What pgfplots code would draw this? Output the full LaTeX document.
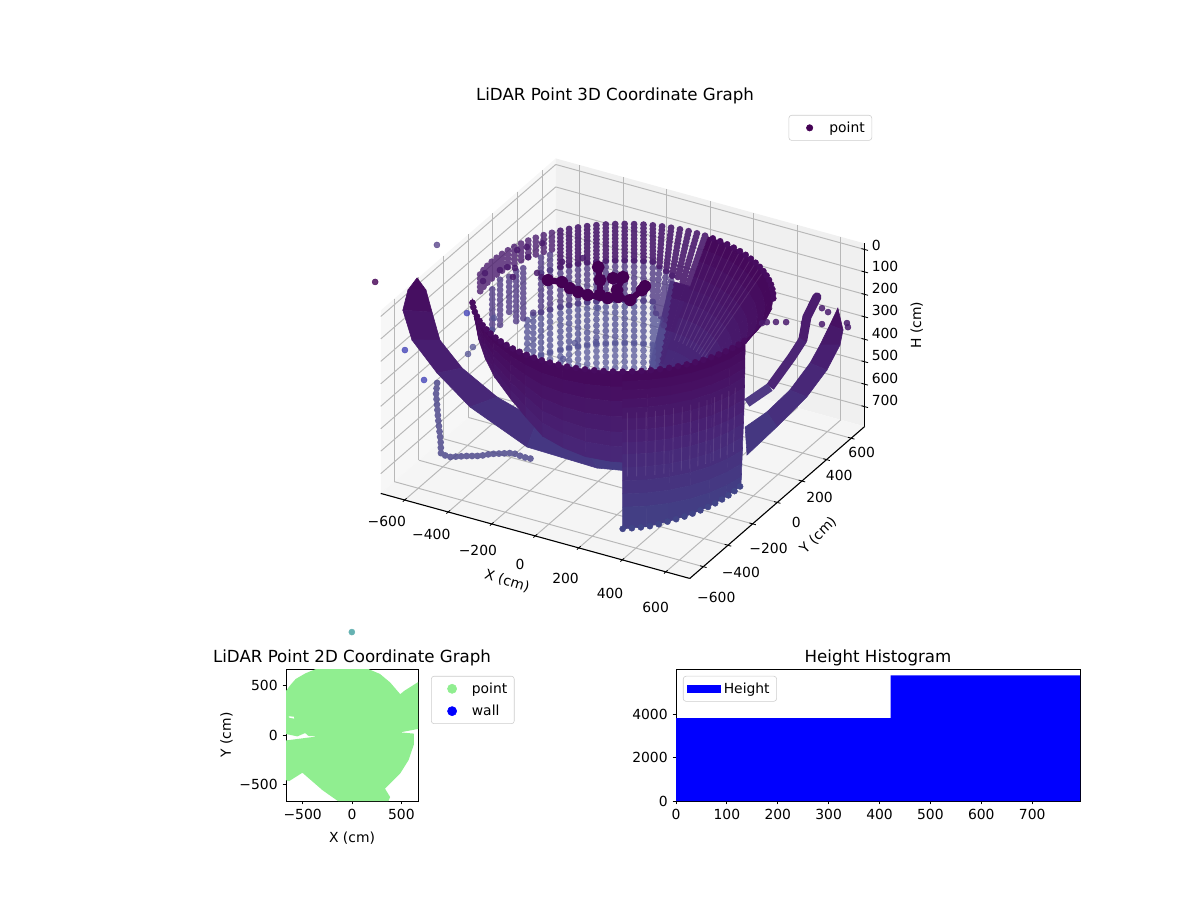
\documentclass[border=0pt]{standalone}
\usepackage{fontspec}
\setmainfont{DejaVu Sans}
\usepackage{pgfplots}
\pgfplotsset{compat=1.18}
\definecolor{cA}{HTML}{440154}
\definecolor{cRim}{HTML}{470C60}
\definecolor{cB1}{HTML}{4B1C6E}
\definecolor{cB2}{HTML}{503A84}
\definecolor{cB3}{HTML}{565496}
\definecolor{cB4}{HTML}{5F5F9E}
\definecolor{cBot}{HTML}{414487}
\definecolor{cChain}{HTML}{4F4A8C}
\definecolor{cGrid}{HTML}{B8B8B8}
\definecolor{cLG}{HTML}{90EE90}
\newcommand\sh[3]{\raisebox{#2}[\height][\depth]{\kern#1\relax#3\kern-#1\relax}}
\pgfplotsset{
  /pgfplots/table/cyl/.style={x expr=\thisrow{r}*cos(\thisrow{t}),y expr=\thisrow{r}*sin(\thisrow{t}),z=H},
  dots/.style={no markers,empty line=jump,unbounded coords=jump,forget plot,line cap=round,line width=4.9pt,dash pattern=on 0pt off #1},
  stripes/.style={no markers,empty line=jump,unbounded coords=jump,forget plot,white,line width=0.6pt,opacity=0.1},
  tks/.style={no markers,empty line=jump,unbounded coords=jump,forget plot,black,line width=0.6pt},
  sheet/.style={surf,shader=flat,forget plot,z buffer=none},
  pts/.style={only marks,mark=*,mark size=2.2pt,forget plot,mark options={draw=#1,fill=#1,line width=0.3pt}},
  leg/.style={font=\fontsize{10}{12}\selectfont,draw=black!20,rounded corners=2pt,cells={anchor=west},inner xsep=3pt,inner ysep=2.5pt},
  markleg/.style={legend image code/.code={\path[draw=none,fill=none] (0cm,0cm) -- (0.85cm,0cm);\draw[##1,sharp corners] plot coordinates {(0.42cm,0cm)};}},
}
\begin{document}
\begin{tikzpicture}
\path (0,0) rectangle (864pt,648pt);
\begin{axis}[
  at={(448.38pt,444.24pt)},anchor=origin,
  set layers=standard,clip=false,
  x={(0.15668pt,-0.0431pt)},y={(0.08873pt,0.07707pt)},z={(0pt,0.16167pt)},
  z dir=reverse,
  xmin=-710,xmax=710,ymin=-710,ymax=710,zmin=-27,zmax=788,
  xtick={-600,-400,-200,0,200,400,600},ytick={-600,-400,-200,0,200,400,600},ztick={0,100,200,300,400,500,600,700},
  xticklabels={\sh{-6.5pt}{-3.6pt}{−600},\sh{-5.8pt}{-4.3pt}{−400},\sh{-3.6pt}{-7.2pt}{−200},\sh{-5.8pt}{-10.8pt}{0},\sh{-3.6pt}{-10.8pt}{200},\sh{-2.9pt}{-13pt}{400},\sh{-1.4pt}{-14.4pt}{600}},
  yticklabels={\sh{-2.8pt}{-7.9pt}{−600},\sh{-2.9pt}{-5.8pt}{−400},\sh{-0.7pt}{-3.6pt}{−200},\sh{5.8pt}{-5.8pt}{0},\sh{2.2pt}{0pt}{200},\sh{-1.4pt}{0.7pt}{400},\sh{-2.9pt}{1.4pt}{600}},
  zticklabels={0,100,200,300,400,500,600,700},
  zticklabel pos=right,xtick pos=lower,ytick pos=lower,ztick pos=right,
  grid=major,grid style={cGrid,line width=0.7pt},
  axis line style={draw=none},major tick style={draw=none},major tick length=4pt,tick align=center,
  colormap={lid}{rgb255=(68,1,84); rgb255=(71,19,101); rgb255=(72,36,117); rgb255=(70,52,128); rgb255=(65,68,135)},
  point meta min=0,point meta max=800,
  xlabel={X (cm)},ylabel={Y (cm)},zlabel={H (cm)},
  xlabel style={at={(axis cs:84,-1087,788)},anchor=center,rotate=-17},
  ylabel style={at={(axis cs:985,-153,788)},anchor=center,rotate=45},
  zlabel style={at={(axis cs:894,808,334)},anchor=center,rotate=0},
  title={LiDAR Point 3D Coordinate Graph},
  title style={at={(axis cs:0,0,-27)},anchor=center,xshift=-5.58pt,yshift=124pt,font=\fontsize{12}{14}\selectfont},
  legend style={leg,at={(axis cs:0,0,-27)},anchor=north east,xshift=179.5pt,yshift=116.6pt},
]
% panes
\addplot3[on layer=axis background,fill=black!3,draw=none,forget plot] coordinates {(-710,-710,-27)(-710,710,-27)(-710,710,788)(-710,-710,788)} -- cycle;
\addplot3[on layer=axis background,fill=black!6,draw=none,forget plot] coordinates {(-710,710,-27)(710,710,-27)(710,710,788)(-710,710,788)} -- cycle;
\addplot3[on layer=axis background,fill=black!4,draw=none,forget plot] coordinates {(-710,-710,788)(710,-710,788)(710,710,788)(-710,710,788)} -- cycle;
% axis lines
\addplot3[black,line width=0.8pt,no markers,forget plot] coordinates {(-710,-710,788)(710,-710,788)};
\addplot3[black,line width=0.8pt,no markers,forget plot] coordinates {(710,-710,788)(710,710,788)};
\addplot3[black,line width=0.8pt,no markers,forget plot] coordinates {(710,710,788)(710,710,-27)};
% tick marks
\addplot3[tks] table {
-600 -725 788
-600 -695 788

-400 -725 788
-400 -695 788

-200 -725 788
-200 -695 788

0 -725 788
0 -695 788

200 -725 788
200 -695 788

400 -725 788
400 -695 788

600 -725 788
600 -695 788

695 -600 788
725 -600 788

695 -400 788
725 -400 788

695 -200 788
725 -200 788

695 0 788
725 0 788

695 200 788
725 200 788

695 400 788
725 400 788

695 600 788
725 600 788

695 710 0
725 710 0

695 710 100
725 710 100

695 710 200
725 710 200

695 710 300
725 710 300

695 710 400
725 710 400

695 710 500
725 710 500

695 710 600
725 710 600

695 710 700
725 710 700
};
\addlegendimage{markleg,only marks,mark=*,mark size=2.3pt,mark options={draw=cA,fill=cA}}
\addlegendentry{point}
% base of the bowl behind the columns
\addplot3[sheet,point meta=\thisrow{H}] table[cyl] {
t r H
96 478 231
96 438 283
96 361 385
96 282 490
96 205 592

88 478 231
88 438 283
88 361 385
88 282 490
88 205 592

80 478 231
80 438 283
80 361 385
80 282 490
80 205 592
};
% back wall columns, lowest part
\addplot3[dots=4.3pt,cB4,opacity=0.8] table[cyl] {
t r H
108 602 600
108 602 790

111.6 602 600
111.6 602 790

115.2 602 600
115.2 602 790

118.8 602 600
118.8 602 790

122.4 602 600
122.4 602 790

126 602 600
126 602 790

129.6 602 600
129.6 602 790

133.2 602 600
133.2 602 790

136.8 602 600
136.8 602 790

140.4 602 600
140.4 602 790

144 602 600
144 602 790

148.4 602 600
148.4 602 773

152.4 602 600
152.4 602 773

156 602 600
156 602 747

158.9 602 600
158.9 602 739
};
\addplot3[dots=4.3pt,cB3,opacity=0.8] table[cyl] {
t r H
97.2 430 407
97.2 330 592

100.8 470 407
100.8 390 592

104.4 510 407
104.4 450 592

108 602 407
108 602 600

111.6 602 407
111.6 602 600

115.2 602 407
115.2 602 600

118.8 602 407
118.8 602 600

122.4 602 407
122.4 602 600

126 602 407
126 602 600

129.6 602 407
129.6 602 600

133.2 602 407
133.2 602 600

136.8 602 407
136.8 602 600

140.4 602 407
140.4 602 600

144 602 407
144 602 600

148.4 602 407
148.4 602 600

152.4 602 407
152.4 602 600

156 602 407
156 602 600

158.9 602 418
158.9 602 600
};
\addplot3[dots=4pt,cB2,opacity=0.8] table[cyl] {
t r H
97.2 520 231
97.2 430 407

100.8 540 231
100.8 470 407

104.4 560 231
104.4 510 407

108 602 231
108 602 407

111.6 602 231
111.6 602 407

115.2 602 231
115.2 602 407

118.8 602 231
118.8 602 407

122.4 602 231
122.4 602 407

126 602 231
126 602 407

129.6 602 231
129.6 602 407

133.2 602 231
133.2 602 407

136.8 602 231
136.8 602 407

140.4 602 231
140.4 602 407

144 602 231
144 602 407

148.4 602 231
148.4 602 407

152.4 602 231
152.4 602 407

156 602 396
156 602 407
};
\addplot3[dots=2.6pt,cB1,opacity=0.9] table[cyl] {
t r H
86.4 602 66
86.4 478 231

90 602 66
90 485 231

93.6 602 66
93.6 500 231

97.2 602 66
97.2 520 231

100.8 602 66
100.8 540 231

104.4 602 66
104.4 560 231

108 602 66
108 602 231

111.6 602 66
111.6 602 231

115.2 602 66
115.2 602 231

118.8 602 66
118.8 602 231

122.4 602 66
122.4 602 231

126 602 66
126 602 231

129.6 602 66
129.6 602 231

133.2 602 66
133.2 602 231

136.8 602 66
136.8 602 231

140.4 602 66
140.4 602 231

144 602 66
144 602 231
};
% rim columns at the back left
\addplot3[dots=3pt,cB1,opacity=0.8] table[cyl] {
t r H
147.6 602 66
147.6 602 149

151.2 602 66
151.2 602 149

154.8 602 66
154.8 602 149

158.4 602 66
158.4 602 149

162 602 66
162 602 149

165.6 602 66
165.6 602 149

169.2 602 66
169.2 602 149

172.8 602 66
172.8 602 149

176.4 602 66
176.4 602 149

180 602 66
180 602 149

183.6 602 66
183.6 602 149

187.2 602 66
187.2 602 149

190.8 602 66
190.8 602 149
};
% partial columns at the back left
\addplot3[dots=3.6pt,cB2,opacity=0.8] table[cyl] {
t r H
148.4 602 162
148.4 602 231

152.4 602 162
152.4 602 231

160.9 602 180
160.9 602 411

164.6 602 178
164.6 602 410

168.5 602 187
168.5 602 365

174.1 602 175
174.1 602 376

179.6 602 191
179.6 602 382
};
% scattered points
\addplot3[pts=cA,opacity=0.8] coordinates {(-900,-420,35)};
\addplot3[pts=cB2,opacity=0.75] coordinates {(-833,-37,35)};
\addplot3[pts=cB3,opacity=0.75] coordinates {(-564,-49,283)(-523,-138,283)(-521,-296,283)(-510,-355,283)(-181,-69,283)(-112,-20,283)(-158,-204,283)(-241,225,283)};
\addplot3[pts={blue!45!gray},opacity=0.8] coordinates {(-864,261,489)(-932,-122,489)(-745,-297,489)};
\addplot3[pts=cB1,opacity=0.85] coordinates {(-616,231,128)(-595,272,128)(-557,329,128)(-550,203,128)(-455,108,128)(-422,88,128)(-583,91,128)(-596,56,128)(-552,100,128)(-523,32,128)(-636,5,128)(-611,-55,128)(-412,235,128)(-355,303,128)};
\addplot3[pts=cB1,opacity=0.85] coordinates {(485,274,180)(498,290,180)(529,309,180)(565,328,180)(631,356,180)(698,384,180)(671,481,180)(634,497,180)(781,440,180)(801,413,180)};
\addplot3[pts={teal!60!white}] coordinates {(-861,-678,1461)};
% right side of the bowl
\addplot3[sheet,point meta=\thisrow{H}] table[cyl] {
t r H
85 602 66
85 569 110
85 539 150
85 501 200
85 471 240
85 438 283
85 399 335
85 361 385
85 320 440
85 282 490
85 244 540
85 205 592

78 602 66
78 569 110
78 539 150
78 501 200
78 471 240
78 438 283
78 399 335
78 361 385
78 320 440
78 282 490
78 244 540
78 205 592

70 602 66
70 569 110
70 539 150
70 501 200
70 471 240
70 438 283
70 399 335
70 361 385
70 320 440
70 282 490
70 244 540
70 205 592

60 602 66
60 569 110
60 539 150
60 501 200
60 471 240
60 438 283
60 399 335
60 361 385
60 320 440
60 282 490
60 244 540
60 205 592

50 602 66
50 569 110
50 539 150
50 501 200
50 471 240
50 438 283
50 399 335
50 361 385
50 320 440
50 282 490
50 244 540
50 205 592

40 602 66
40 569 110
40 539 150
40 501 200
40 471 240
40 438 283
40 399 335
40 361 385
40 320 440
40 282 490
40 244 540
40 205 592

30 602 66
30 569 110
30 539 150
30 501 200
30 471 240
30 438 283
30 399 335
30 361 385
30 320 440
30 282 490
30 244 540
30 205 592

20 602 66
20 569 110
20 539 150
20 501 200
20 471 240
20 438 283
20 399 335
20 361 385
20 320 440
20 282 490
20 244 540
20 205 592

10 602 66
10 569 110
10 539 150
10 501 200
10 471 240
10 438 283
10 399 335
10 361 385
10 320 440
10 282 490
10 244 540
10 205 592

0 602 66
0 569 110
0 539 150
0 501 200
0 471 240
0 438 283
0 399 335
0 361 385
0 320 440
0 282 490
0 244 540
0 205 592

-10 602 66
-10 569 110
-10 539 150
-10 501 200
-10 471 240
-10 438 283
-10 399 335
-10 361 385
-10 320 440
-10 282 490
-10 244 540
-10 205 592
};
\addplot3[stripes] table[cyl] {
t r H
82.8 602 66
82.8 345 407

79.2 602 66
79.2 345 407

75.6 602 66
75.6 345 407

72 602 66
72 345 407

68.4 602 66
68.4 345 407

64.8 602 66
64.8 345 407

61.2 602 66
61.2 345 407

57.6 602 66
57.6 345 407

54 602 66
54 345 407

50.4 602 66
50.4 345 407
};
\addplot3[pts=cRim] table[cyl] {
t r H
28.8 602 66
32.4 602 66
36 602 66
39.6 602 66
43.2 602 66
46.8 602 66
50.4 602 66
54 602 66
57.6 602 66
61.2 602 66
64.8 602 66
68.4 602 66
72 602 66
75.6 602 66
79.2 602 66
82.8 602 66
};
% dark arc inside the bowl
\addplot3[cA,line width=4.4pt,line cap=round,line join=round,mark=*,mark size=2.3pt,forget plot] coordinates {(-379,62,118)(-322,76,118)(-270,48,118)(-226,37,118)(-180,34,118)(-98,52,118)(-66,79,118)(-12,81,118)(-11,175,118)(-16,209,118)};
\addplot3[cA,line width=4.4pt,line cap=round,mark=*,mark size=2.3pt,forget plot] coordinates {(-256,253,118)(-198,165,118)(-138,58,118)};
\addplot3[cA,line width=4.4pt,line cap=round,mark=*,mark size=2.3pt,forget plot] coordinates {(-160,203,118)(-129,230,118)(-98,127,118)};
% outer right crescent
\addplot3[sheet,point meta=\thisrowno{2}] table {
736 446 128
736 446 128

749 465 231
683 474 231

734 467 303
664 428 303

714 396 386
627 412 386

659 330 489
572 346 489

582 223 592
487 310 592

516 97 675
397 292 675
};
% thin right band
\addplot3[cB1,line width=6.5pt,line cap=round,line join=round,no markers,forget plot] coordinates {(637,451,107)(608,421,190)(602,398,283)};
\addplot3[cB1!70!cB2,line width=6.5pt,line join=round,no markers,forget plot] coordinates {(602,398,283)(558,387,365)(491,328,489)};
\addplot3[cB2,line width=6.5pt,no markers,forget plot] coordinates {(491,328,489)(409,285,561)};
% left crescent
\addplot3[sheet,point meta=\thisrowno{2}] table {
-807 -244 76
-807 -244 76

-837 -265 128
-774 -230 128

-821 -335 180
-711 -292 180

-762 -365 283
-664 -311 283

-635 -386 386
-567 -302 386

-476 -399 489
-422 -275 489

-228 -374 613
-301 -163 613

45 -288 675
-32 -209 675

193 -200 695
152 -129 695
};
% chain of points on the left
\addplot3[dots=3.9pt,cChain,opacity=0.85,line width=4.9pt] coordinates {(-597,-452,389)(-602,-452,437)(-592,-452,551)(-581,-452,644)(-578,-454,700)(-531,-464,695)(-475,-424,695)(-430,-398,695)(-403,-365,695)(-327,-313,695)(-276,-322,695)(-237,-318,695)};
% front left sheet
\addplot3[sheet,point meta=\thisrow{H}] table[cyl] {
t r H
-150 602 66
-150 601 70
-150 600 73
-150 599 77
-150 598 80
-150 597 83
-150 595 87

-143 602 66
-143 601 76
-143 600 85
-143 599 96
-143 598 106
-143 597 115
-143 595 125

-136 602 66
-136 601 84
-136 600 100
-136 599 118
-136 598 135
-136 597 151
-136 595 169

-128 602 66
-128 601 90
-128 600 114
-128 599 138
-128 598 162
-128 597 186
-128 595 210

-120 602 66
-120 601 98
-120 600 127
-120 599 159
-120 598 191
-120 597 220
-120 595 252

-109 602 66
-109 601 106
-109 600 144
-109 599 185
-109 598 225
-109 597 263
-109 595 303

-101 602 66
-101 601 114
-101 600 160
-101 599 208
-101 598 256
-101 597 302
-101 595 350

-93 602 66
-93 601 124
-93 600 179
-93 599 237
-93 598 294
-93 597 349
-93 595 407

-84 602 66
-84 601 129
-84 600 188
-84 599 251
-84 598 313
-84 597 372
-84 595 435

-75 602 66
-75 601 133
-75 600 195
-75 599 262
-75 598 329
-75 597 391
-75 595 458

-65 602 66
-65 601 135
-65 600 199
-65 599 268
-65 598 337
-65 597 401
-65 595 470

-55 602 66
-55 601 136
-55 600 202
-55 599 272
-55 598 343
-55 597 409
-55 595 479
};
\addplot3[pts=cRim] table[cyl] {
t r H
-147 602 66
-143.4 602 66
-139.8 602 66
-136.2 602 66
-132.6 602 66
-129 602 66
-125.4 602 66
-121.8 602 66
-118.2 602 66
-114.6 602 66
-111 602 66
-107.4 602 66
-103.8 602 66
-100.2 602 66
-96.6 602 66
-93 602 66
-89.4 602 66
-85.8 602 66
-82.2 602 66
-78.6 602 66
-75 602 66
-71.4 602 66
-67.8 602 66
-64.2 602 66
};
% front columns
\addplot3[sheet,point meta=\thisrow{H}] table[cyl] {
t r H
-60.5 602 66
-60.5 601 110
-60.5 600 150
-60.5 600 190
-60.5 599 230
-60.5 598 278
-60.5 597 330
-60.5 595 386
-60.5 593 440
-60.5 590 500
-60.5 588 560
-60.5 585 620
-60.5 583 680
-60.5 580 778

-51 602 66
-51 601 110
-51 600 150
-51 600 190
-51 599 230
-51 598 278
-51 597 330
-51 595 386
-51 593 440
-51 590 500
-51 588 560
-51 585 620
-51 583 680
-51 580 773

-42 602 66
-42 601 110
-42 600 150
-42 600 190
-42 599 230
-42 598 278
-42 597 330
-42 595 386
-42 593 440
-42 590 500
-42 588 560
-42 585 620
-42 583 680
-42 580 762

-33 602 66
-33 601 110
-33 600 150
-33 600 190
-33 599 230
-33 598 278
-33 597 330
-33 595 386
-33 593 440
-33 590 500
-33 588 560
-33 585 620
-33 583 680
-33 580 752

-24 602 66
-24 601 110
-24 600 150
-24 600 190
-24 599 230
-24 598 278
-24 597 330
-24 595 386
-24 593 440
-24 590 500
-24 588 560
-24 585 620
-24 583 680
-24 580 742

-15 602 66
-15 601 110
-15 600 150
-15 600 190
-15 599 230
-15 598 278
-15 597 330
-15 595 386
-15 593 440
-15 590 500
-15 588 560
-15 585 620
-15 583 680
-15 580 731

-6 602 66
-6 601 110
-6 600 150
-6 600 190
-6 599 230
-6 598 278
-6 597 330
-6 595 386
-6 593 440
-6 590 500
-6 588 560
-6 585 620
-6 583 680
-6 580 721
};
\addplot3[stripes] table[cyl] {
t r H
-58.7 600 250
-58.7 590 540

-55.1 600 250
-55.1 590 540

-51.5 600 250
-51.5 590 540

-47.9 600 250
-47.9 590 540

-44.3 600 250
-44.3 590 540

-40.7 600 250
-40.7 590 540

-37.1 600 250
-37.1 590 540

-33.5 600 250
-33.5 590 540

-29.9 600 250
-29.9 590 540

-26.3 600 250
-26.3 590 540

-22.7 600 250
-22.7 590 540

-19.1 600 250
-19.1 590 540

-15.5 600 250
-15.5 590 540

-11.9 600 250
-11.9 590 540
};
\addplot3[pts=cRim] table[cyl] {
t r H
-60.5 602 66
-56.9 602 66
-53.3 602 66
-49.7 602 66
-46.1 602 66
-42.5 602 66
-38.9 602 66
-35.3 602 66
-31.7 602 66
-28.1 602 66
-24.5 602 66
-20.9 602 66
-17.3 602 66
-13.7 602 66
-10.1 602 66
-6.5 602 66
};
\addplot3[pts=cBot] table[cyl] {
t r H
-60.5 580 778
-56.9 580 776
-53.3 580 774
-49.7 580 772
-46.1 580 768
-42.5 580 762
-38.9 580 758
-35.3 580 754
-31.7 580 750
-28.1 580 746
-24.5 580 742
-20.9 580 738
-17.3 580 734
-13.7 580 730
-10.1 580 726
-6.5 580 721
};
\end{axis}
% 2D panel
\begin{axis}[
  at={(205.92pt,71.28pt)},anchor=south west,scale only axis,width=95.04pt,height=95.04pt,
  xmin=-668,xmax=668,ymin=-668,ymax=668,
  xtick={-500,0,500},ytick={-500,0,500},xticklabels={−500,0,500},yticklabels={−500,0,500},
  tick align=outside,tick pos=left,tick style={black,line width=0.6pt},major tick length=2.5pt,
  xlabel={X (cm)},ylabel={Y (cm)},
  xlabel style={yshift=-2pt},ylabel style={yshift=-2pt},
  title={LiDAR Point 2D Coordinate Graph},
  title style={font=\fontsize{12}{14}\selectfont,yshift=-7pt},
  legend style={leg,at={(axis cs:668,668)},anchor=north west,xshift=9.4pt,yshift=-5pt,row sep=3pt},
]
\addplot[fill=cLG,draw=none,forget plot] coordinates {
(-365,668)(164,668)(283,618)(386,532)(488,413)(529,447)(668,535)(668,61)(488,27)(625,14)(625,-99)(573,-253)(488,-389)(334,-543)(386,-628)(369,-668)(-143,-668)(-297,-560)(-502,-382)(-638,-468)(-668,-457)(-668,-55)(-348,-14)(-440,-10)(-474,20)(-553,-14)(-668,10)(-668,447)(-620,510)(-570,567)(-470,625)
} -- cycle;
\addplot[fill=white,draw=none,forget plot] coordinates {(-640,190)(-590,185)(-585,165)(-640,178)} -- cycle;
\addlegendimage{markleg,only marks,mark=*,mark size=3.3pt,mark options={draw=cLG,fill=cLG}}
\addlegendentry{point}
\addlegendimage{markleg,only marks,mark=*,mark size=3.3pt,mark options={draw=blue,fill=blue}}
\addlegendentry{wall}
\end{axis}
% histogram
\begin{axis}[
  at={(486.72pt,71.28pt)},anchor=south west,scale only axis,width=290.88pt,height=95.04pt,
  xmin=0,xmax=794,ymin=0,ymax=6069,
  xtick={0,100,200,300,400,500,600,700},ytick={0,2000,4000},
  scaled y ticks=false,/pgf/number format/set thousands separator={},
  /pgf/number format/assume math mode=true,
  tick align=outside,tick pos=left,tick style={black,line width=0.6pt},major tick length=2.5pt,
  title={Height Histogram},
  title style={font=\fontsize{12}{14}\selectfont,yshift=-7pt},
  legend style={leg,at={(axis cs:0,6069)},anchor=north west,xshift=5pt,yshift=-5pt},
]
\addplot[ybar interval,fill=blue,draw=none,legend image code/.code={\fill[blue,sharp corners] (0cm,-0.1cm) rectangle (0.85cm,0.1cm);}] coordinates {(0,3807)(422,5780)(794,5780)};
\addlegendentry{Height}
\end{axis}
\end{tikzpicture}
\end{document}
